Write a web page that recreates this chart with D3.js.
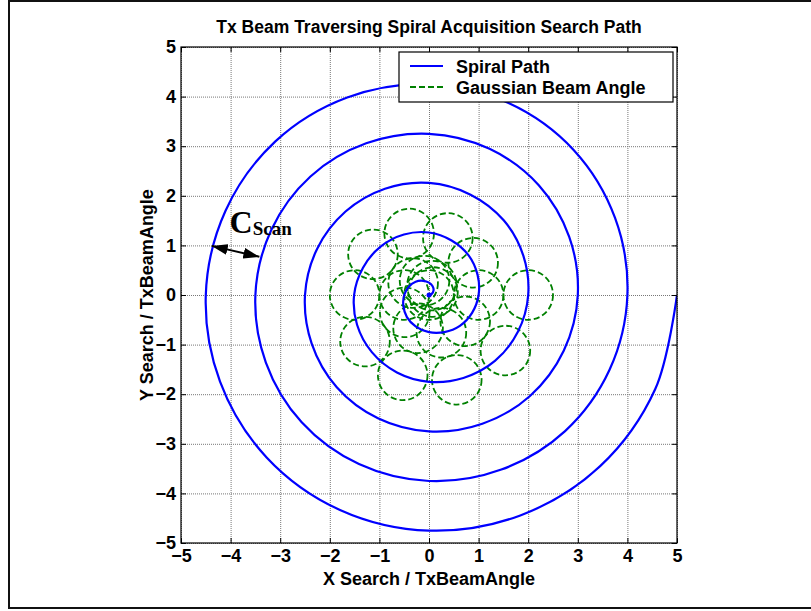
<!DOCTYPE html>
<html lang="en">
<head>
<meta charset="UTF-8">
<title>Tx Beam Traversing Spiral Acquisition Search Path</title>
<style>
  body { margin: 0; background: #fff; }
  svg { font-family: "Liberation Sans", Arial, sans-serif; font-weight: bold; }
  .tick text { font-size: 18px; fill: #000; }
  .grid line { stroke: #777; stroke-dasharray: 1,1; }
  .grid path, .grid text { display: none; }
  .inner path { display: none; }
  .inner line { stroke: #000; }
</style>
</head>
<body>
<div id="chart"></div>
<script src="https://d3js.org/d3.v7.min.js"></script>
<script>
// tick labels on both axes
const tickValues = [-5, -4, -3, -2, -1, 0, 1, 2, 3, 4, 5];

// spiral radius read every 22.5 degrees (counter-clockwise from +x), five turns
const spiralStepDeg = 22.5;
const spiralRadii = [
  0, 0.06, 0.13, 0.19, 0.25, 0.31, 0.38, 0.44, 0.5, 0.56, 0.63, 0.69, 0.75, 0.81, 0.88, 0.94,
  1, 1.06, 1.13, 1.19, 1.26, 1.32, 1.38, 1.44, 1.51, 1.57, 1.63, 1.69, 1.75, 1.81, 1.88, 1.94,
  2, 2.06, 2.13, 2.19, 2.26, 2.32, 2.38, 2.44, 2.5, 2.56, 2.63, 2.69, 2.75, 2.81, 2.88, 2.94,
  3, 3.06, 3.13, 3.19, 3.25, 3.31, 3.38, 3.44, 3.5, 3.56, 3.63, 3.69, 3.75, 3.81, 3.88, 3.94,
  4, 4.06, 4.13, 4.19, 4.25, 4.31, 4.38, 4.44, 4.5, 4.56, 4.63, 4.69, 4.75, 4.81, 4.88, 4.94,
  5
];

// gaussian beam footprints (centres), radius in search units
const beamCenters = [
  [0, 0], [0.08, 0.06], [0.06, 0.19], [-0.09, 0.29], [-0.32, 0.24], [-0.5, 0], [-0.49, -0.35],
  [-0.22, -0.67], [0.25, -0.76], [0.73, -0.53],
  [1, 0], [0.89, 0.65], [0.38, 1.15], [-0.4, 1.24], [-1.13, 0.82], [-1.5, 0], [-1.29, -0.94],
  [-0.53, -1.62], [0.56, -1.71], [1.54, -1.12], [2, 0]
];
const beamRadius = 0.5;

// C_scan annotation
const cscanArrow = [[-4.38, 0.99], [-3.42, 0.77]];
const cscanLabel = [-4.02, 1.25];

const legendLabels = ["Spiral Path", "Gaussian Beam Angle"];

const W = 811, H = 611;
const plot = { left: 181, right: 677, top: 47, bottom: 543 };

const x = d3.scaleLinear().domain([-5, 5]).range([plot.left, plot.right]);
const y = d3.scaleLinear().domain([-5, 5]).range([plot.bottom, plot.top]);

const svg = d3.select('#chart').append('svg')
  .attr('width', W)
  .attr('height', H);

svg.append('rect').attr('width', W).attr('height', H).attr('fill', '#fff');

// outer figure frame
svg.append('rect')
  .attr('x', 9).attr('y', 1)
  .attr('width', 900).attr('height', 607)
  .attr('fill', 'none')
  .attr('stroke', '#111')
  .attr('stroke-width', 2);

const defs = svg.append('defs');
defs.append('clipPath').attr('id', 'clip')
  .append('rect')
  .attr('x', plot.left).attr('y', plot.top)
  .attr('width', plot.right - plot.left).attr('height', plot.bottom - plot.top);

// grid
svg.append('g')
  .attr('class', 'grid')
  .attr('transform', `translate(0,${plot.bottom})`)
  .call(d3.axisBottom(x).tickValues(tickValues).tickSize(-(plot.bottom - plot.top)).tickFormat(''));
svg.append('g')
  .attr('class', 'grid')
  .attr('transform', `translate(${plot.left},0)`)
  .call(d3.axisLeft(y).tickValues(tickValues).tickSize(-(plot.right - plot.left)).tickFormat(''));

const g = svg.append('g').attr('clip-path', 'url(#clip)');

// beam circles
g.selectAll('circle.beam')
  .data(beamCenters)
  .enter().append('circle')
  .attr('class', 'beam')
  .attr('cx', d => x(d[0]))
  .attr('cy', d => y(d[1]))
  .attr('r', x(beamRadius) - x(0))
  .attr('fill', 'none')
  .attr('stroke', '#008000')
  .attr('stroke-width', 1.8)
  .attr('stroke-dasharray', '6,3');

// spiral, drawn as a radial line around the origin
const spiral = d3.lineRadial()
  .angle((d, i) => Math.PI / 2 - i * spiralStepDeg * Math.PI / 180)
  .radius(d => x(d) - x(0))
  .curve(d3.curveCatmullRom.alpha(0.5));

g.append('path')
  .datum(spiralRadii)
  .attr('transform', `translate(${x(0)},${y(0)})`)
  .attr('d', spiral)
  .attr('fill', 'none')
  .attr('stroke', '#0000ff')
  .attr('stroke-width', 2.2);

g.append('circle')
  .attr('cx', x(0))
  .attr('cy', y(0))
  .attr('r', 2.5)
  .attr('fill', '#0000ff');

// axes with inward ticks
svg.append('g')
  .attr('transform', `translate(0,${plot.bottom})`)
  .call(d3.axisBottom(x).tickValues(tickValues).tickSizeInner(-5).tickSizeOuter(0).tickPadding(6))
  .call(a => a.select('.domain').remove())
  .call(a => a.selectAll('line').attr('stroke', '#000'));
svg.append('g')
  .attr('transform', `translate(${plot.left},0)`)
  .call(d3.axisLeft(y).tickValues(tickValues).tickSizeInner(-5).tickSizeOuter(0).tickPadding(5))
  .call(a => a.select('.domain').remove())
  .call(a => a.selectAll('line').attr('stroke', '#000'));
svg.append('g')
  .attr('class', 'inner')
  .attr('transform', `translate(0,${plot.top})`)
  .call(d3.axisTop(x).tickValues(tickValues).tickSizeInner(-5).tickSizeOuter(0).tickFormat(''));
svg.append('g')
  .attr('class', 'inner')
  .attr('transform', `translate(${plot.right},0)`)
  .call(d3.axisRight(y).tickValues(tickValues).tickSizeInner(-5).tickSizeOuter(0).tickFormat(''));

svg.selectAll('.tick text').attr('font-weight', 'bold');

svg.append('rect')
  .attr('x', plot.left).attr('y', plot.top)
  .attr('width', plot.right - plot.left).attr('height', plot.bottom - plot.top)
  .attr('fill', 'none')
  .attr('stroke', '#000')
  .attr('stroke-width', 1.2);

// title and axis labels
svg.append('text')
  .attr('x', (plot.left + plot.right) / 2)
  .attr('y', 33)
  .attr('text-anchor', 'middle')
  .style('font-size', '17.5px')
  .text('Tx Beam Traversing Spiral Acquisition Search Path');

svg.append('text')
  .attr('x', (plot.left + plot.right) / 2)
  .attr('y', 585)
  .attr('text-anchor', 'middle')
  .style('font-size', '18px')
  .text('X Search / TxBeamAngle');

svg.append('text')
  .attr('transform', `translate(153,${(plot.top + plot.bottom) / 2}) rotate(-90)`)
  .attr('text-anchor', 'middle')
  .style('font-size', '18px')
  .text('Y Search / TxBeamAngle');

// legend
const lg = svg.append('g').attr('transform', 'translate(399,52)');
lg.append('rect')
  .attr('width', 274).attr('height', 50)
  .attr('fill', '#fff')
  .attr('stroke', '#000')
  .attr('stroke-width', 1.2);
const styles = [
  { stroke: '#0000ff', dash: null, w: 2.2 },
  { stroke: '#008000', dash: '6,3', w: 1.8 }
];
legendLabels.forEach((label, i) => {
  const yy = 14 + i * 21;
  lg.append('line')
    .attr('x1', 11).attr('x2', 44)
    .attr('y1', yy).attr('y2', yy)
    .attr('stroke', styles[i].stroke)
    .attr('stroke-width', styles[i].w)
    .attr('stroke-dasharray', styles[i].dash);
  lg.append('text')
    .attr('x', 57)
    .attr('y', yy + 7)
    .style('font-size', '18px')
    .text(label);
});

// C_scan arrow
const mk = (id, orient) => defs.append('marker')
  .attr('id', id)
  .attr('markerUnits', 'userSpaceOnUse')
  .attr('viewBox', '0 0 16 11')
  .attr('refX', 16).attr('refY', 5.5)
  .attr('markerWidth', 16).attr('markerHeight', 11)
  .attr('orient', orient)
  .append('path')
  .attr('d', 'M0,0 L16,5.5 L0,11 Z')
  .attr('fill', '#000');
mk('arrowEnd', 'auto');
mk('arrowStart', 'auto-start-reverse');

svg.append('line')
  .attr('x1', x(cscanArrow[0][0])).attr('y1', y(cscanArrow[0][1]))
  .attr('x2', x(cscanArrow[1][0])).attr('y2', y(cscanArrow[1][1]))
  .attr('stroke', '#000')
  .attr('stroke-width', 2)
  .attr('marker-start', 'url(#arrowStart)')
  .attr('marker-end', 'url(#arrowEnd)');

const ct = svg.append('text')
  .attr('x', x(cscanLabel[0]))
  .attr('y', y(cscanLabel[1]))
  .style('font-family', '"Liberation Serif", "Times New Roman", serif')
  .style('font-weight', 'bold');
ct.append('tspan').style('font-size', '32px').text('C');
ct.append('tspan').attr('dy', 2).style('font-size', '19px').text('Scan');
</script>
</body>
</html>
